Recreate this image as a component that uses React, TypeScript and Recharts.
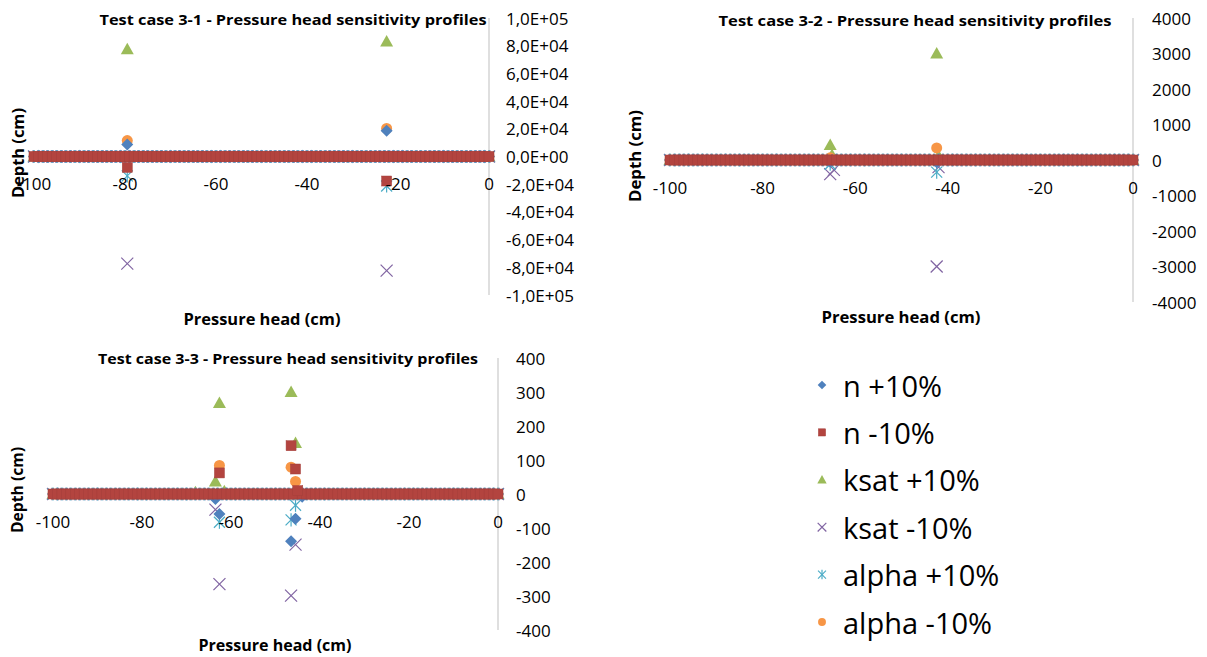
import React from "react";
import { ScatterChart, Scatter, XAxis, YAxis } from "recharts";

type Pt = [number, number];

// depth nodes of the profile (cm)
const depthGrid = [
  -100, -99, -98, -97, -96, -95, -94, -93, -92, -91, -90, -89, -88, -87, -86, -85, -84,
  -83, -82, -81, -80, -79, -78, -77, -76, -75, -74, -73, -72, -71, -70, -69, -68, -67,
  -66, -65, -64, -63, -62, -61, -60, -59, -58, -57, -56, -55, -54, -53, -52, -51, -50,
  -49, -48, -47, -46, -45, -44, -43, -42, -41, -40, -39, -38, -37, -36, -35, -34, -33,
  -32, -31, -30, -29, -28, -27, -26, -25, -24, -23, -22, -21, -20, -19, -18, -17, -16,
  -15, -14, -13, -12, -11, -10, -9, -8, -7, -6, -5, -4, -3, -2, -1, 0,
];

const xTicks = [-100, -80, -60, -40, -20, 0];
const case1Ticks = [-100000, -80000, -60000, -40000, -20000, 0, 20000, 40000, 60000, 80000, 100000];
const case2Ticks = [-4000, -3000, -2000, -1000, 0, 1000, 2000, 3000, 4000];
const case3Ticks = [-400, -300, -200, -100, 0, 100, 200, 300, 400];

const seriesNames = ["n +10%", "n -10%", "ksat +10%", "ksat -10%", "alpha +10%", "alpha -10%"];
const seriesColors = ["#4F81BD", "#B3443F", "#9BBB59", "#8064A2", "#4BACC6", "#F79646"];
const seriesKinds = ["diamond", "square", "triangle", "x", "star", "circle"];

// non-zero sensitivities, every other depth node is 0
const case1NPlus: Pt[] = [[-79.5, 8600], [-22.5, 18600]];
const case1NMinus: Pt[] = [[-79.5, -7900], [-22.5, -17700]];
const case1KsatPlus: Pt[] = [[-79.5, 77400], [-22.5, 83000]];
const case1KsatMinus: Pt[] = [[-79.5, -77400], [-22.5, -82400]];
const case1AlphaPlus: Pt[] = [[-79.5, -14000], [-22.5, -21300]];
const case1AlphaMinus: Pt[] = [[-79.5, 11500], [-22.5, 20300]];

const case2NPlus: Pt[] = [[-65.4, -50], [-42.4, -60]];
const case2NMinus: Pt[] = [];
const case2KsatPlus: Pt[] = [[-65.4, 420], [-65, 140], [-42.4, 3000], [-42, 120]];
const case2KsatMinus: Pt[] = [[-65.4, -400], [-64.6, -280], [-42.4, -3000], [-42, -200]];
const case2AlphaPlus: Pt[] = [[-65.4, -120], [-42.4, -340]];
const case2AlphaMinus: Pt[] = [[-65.4, 60], [-42.4, 340]];

const case3NPlus: Pt[] = [[-63.5, -15], [-62.6, -59], [-46.5, -139], [-45.5, -73], [-44, -8]];
const case3NMinus: Pt[] = [[-62.6, 62], [-46.5, 142], [-45.5, 73.5], [-45, 10]];
const case3KsatPlus: Pt[] = [[-68, 5], [-63.5, 37], [-62.6, 268], [-61.5, 8], [-46.5, 300], [-45.5, 150]];
const case3KsatMinus: Pt[] = [[-63.5, -46], [-62.6, -265], [-46.5, -299], [-45.5, -149]];
const case3AlphaPlus: Pt[] = [[-62.6, -83], [-46.5, -76], [-45.5, -33]];
const case3AlphaMinus: Pt[] = [[-62.6, 84], [-46.5, 79], [-45.5, 37]];

const withGrid = (spikes: Pt[]) => [
  ...depthGrid.filter((d) => !spikes.some((s) => s[0] === d)).map((d) => ({ x: d, y: 0 })),
  ...spikes.map(([x, y]) => ({ x, y })),
];

const FONT = "'Open Sans', 'Liberation Sans', sans-serif";

const Marker = ({ cx, cy, kind, color, s = 1 }: any) => {
  if (cx == null || cy == null) return null;
  switch (kind) {
    case "diamond": {
      const r = 6 * s;
      return <polygon points={`${cx},${cy - r} ${cx + r},${cy} ${cx},${cy + r} ${cx - r},${cy}`} fill={color} />;
    }
    case "square": {
      const r = 5 * s;
      return <rect x={cx - r} y={cy - r} width={2 * r} height={2 * r} fill={color} stroke="#A33E3A" strokeWidth={0.5} />;
    }
    case "triangle":
      return (
        <polygon
          points={`${cx},${cy - 6.5 * s} ${cx + 6.5 * s},${cy + 5 * s} ${cx - 6.5 * s},${cy + 5 * s}`}
          fill={color}
        />
      );
    case "x": {
      const r = 6 * s;
      return (
        <g stroke={color} strokeWidth={1.2}>
          <line x1={cx - r} y1={cy - r} x2={cx + r} y2={cy + r} />
          <line x1={cx - r} y1={cy + r} x2={cx + r} y2={cy - r} />
        </g>
      );
    }
    case "star": {
      const r = 5.5 * s;
      return (
        <g stroke={color} strokeWidth={1.2}>
          <line x1={cx - r} y1={cy - r} x2={cx + r} y2={cy + r} />
          <line x1={cx - r} y1={cy + r} x2={cx + r} y2={cy - r} />
          <line x1={cx} y1={cy - r * 1.2} x2={cx} y2={cy + r * 1.2} />
        </g>
      );
    }
    default:
      return <circle cx={cx} cy={cy} r={5.5 * s} fill={color} />;
  }
};

const sciLabel = (v: number) => {
  if (v === 0) return "0,0E+00";
  const e = Math.floor(Math.log10(Math.abs(v)));
  const m = (v / Math.pow(10, e)).toFixed(1).replace(".", ",");
  return `${m}E${e < 0 ? "-" : "+"}${String(Math.abs(e)).padStart(2, "0")}`;
};

// draw order: green, purple, cyan, orange, blue, red on top
const drawOrder = [2, 3, 4, 5, 0, 1];

interface CaseProps {
  left: number;
  top: number;
  width: number;
  height: number;
  margin: { top: number; right: number; bottom: number; left: number };
  yMax: number;
  yTicks: number[];
  yFmt: (v: number) => string;
  tickGap: number;
  series: Pt[][];
}

const CaseChart = ({ left, top, width, height, margin, yMax, yTicks, yFmt, tickGap, series }: CaseProps) => {
  const plotH = height - margin.top - margin.bottom - 30;
  const zeroY = margin.top + plotH / 2;
  return (
    <div style={{ position: "absolute", left, top }}>
      <ScatterChart width={width} height={height} margin={margin}>
        <XAxis
          type="number"
          dataKey="x"
          domain={[-100, 0]}
          ticks={xTicks}
          interval={0}
          axisLine={false}
          tickLine={false}
          height={30}
          tick={(p: any) => (
            <text x={p.x} y={zeroY + 27} textAnchor="middle" dominantBaseline="central" fontSize={17} fontFamily={FONT} fill="#000">
              {p.payload.value}
            </text>
          )}
        />
        <YAxis
          type="number"
          dataKey="y"
          orientation="right"
          width={70}
          domain={[-yMax, yMax]}
          ticks={yTicks}
          interval={0}
          axisLine={{ stroke: "#BFBFBF" }}
          tickLine={false}
          tickSize={0}
          tickMargin={tickGap}
          tick={(p: any) => (
            <text x={p.x} y={p.y} textAnchor="start" dominantBaseline="central" fontSize={17} fontFamily={FONT} fill="#000">
              {yFmt(p.payload.value)}
            </text>
          )}
        />
        {drawOrder.map((i) => (
          <Scatter
            key={seriesNames[i]}
            name={seriesNames[i]}
            data={withGrid(series[i])}
            isAnimationActive={false}
            shape={(p: any) => <Marker cx={p.cx} cy={p.cy} kind={seriesKinds[i]} color={seriesColors[i]} />}
          />
        ))}
      </ScatterChart>
    </div>
  );
};

const titleStyle = { fontFamily: FONT, fontWeight: 700, fill: "#000" };

export default function App() {
  return (
    <div style={{ position: "absolute", left: 0, top: 0, width: 1207, height: 657, overflow: "hidden", background: "#fff" }}>
      <CaseChart
        left={0}
        top={0}
        width={580}
        height={330}
        margin={{ top: 18, right: 21, bottom: 5, left: 34 }}
        yMax={100000}
        yTicks={case1Ticks}
        yFmt={sciLabel}
        tickGap={17}
        series={[case1NPlus, case1NMinus, case1KsatPlus, case1KsatMinus, case1AlphaPlus, case1AlphaMinus]}
      />
      <CaseChart
        left={620}
        top={0}
        width={587}
        height={340}
        margin={{ top: 18, right: 4, bottom: 8, left: 50 }}
        yMax={4000}
        yTicks={case2Ticks}
        yFmt={(v) => String(v)}
        tickGap={19}
        series={[case2NPlus, case2NMinus, case2KsatPlus, case2KsatMinus, case2AlphaPlus, case2AlphaMinus]}
      />
      <CaseChart
        left={0}
        top={340}
        width={580}
        height={317}
        margin={{ top: 18, right: 12, bottom: -3, left: 53 }}
        yMax={400}
        yTicks={case3Ticks}
        yFmt={(v) => String(v)}
        tickGap={18}
        series={[case3NPlus, case3NMinus, case3KsatPlus, case3KsatMinus, case3AlphaPlus, case3AlphaMinus]}
      />
      <svg width={1207} height={657} style={{ position: "absolute", left: 0, top: 0, pointerEvents: "none" }}>
        <text x={293} y={19} textAnchor="middle" dominantBaseline="central" fontSize={15} textLength={387} lengthAdjust="spacingAndGlyphs" style={titleStyle}>
          Test case 3-1 - Pressure head sensitivity profiles
        </text>
        <text x={915} y={20} textAnchor="middle" dominantBaseline="central" fontSize={15} textLength={393} lengthAdjust="spacingAndGlyphs" style={titleStyle}>
          Test case 3-2 - Pressure head sensitivity profiles
        </text>
        <text x={288} y={358} textAnchor="middle" dominantBaseline="central" fontSize={15} textLength={380} lengthAdjust="spacingAndGlyphs" style={titleStyle}>
          Test case 3-3 - Pressure head sensitivity profiles
        </text>

        <text x={262} y={319} textAnchor="middle" dominantBaseline="central" fontSize={16} textLength={157} lengthAdjust="spacingAndGlyphs" style={titleStyle}>
          Pressure head (cm)
        </text>
        <text x={901} y={317} textAnchor="middle" dominantBaseline="central" fontSize={16} textLength={159} lengthAdjust="spacingAndGlyphs" style={titleStyle}>
          Pressure head (cm)
        </text>
        <text x={275} y={645} textAnchor="middle" dominantBaseline="central" fontSize={16} textLength={153} lengthAdjust="spacingAndGlyphs" style={titleStyle}>
          Pressure head (cm)
        </text>

        <text transform="translate(18,153) rotate(-90)" textAnchor="middle" dominantBaseline="central" fontSize={16} textLength={90} lengthAdjust="spacingAndGlyphs" style={titleStyle}>
          Depth (cm)
        </text>
        <text transform="translate(635,156) rotate(-90)" textAnchor="middle" dominantBaseline="central" fontSize={16} textLength={92} lengthAdjust="spacingAndGlyphs" style={titleStyle}>
          Depth (cm)
        </text>
        <text transform="translate(17,490) rotate(-90)" textAnchor="middle" dominantBaseline="central" fontSize={16} textLength={86} lengthAdjust="spacingAndGlyphs" style={titleStyle}>
          Depth (cm)
        </text>

        {seriesNames.map((name, i) => {
          const y = 385 + i * 47.4;
          return (
            <g key={name}>
              <Marker cx={822} cy={y} kind={seriesKinds[i]} color={seriesColors[i]} s={0.72} />
              <text x={843} y={y} dominantBaseline="central" fontSize={29} fontFamily={FONT} fill="#000">
                {name}
              </text>
            </g>
          );
        })}
      </svg>
    </div>
  );
}
